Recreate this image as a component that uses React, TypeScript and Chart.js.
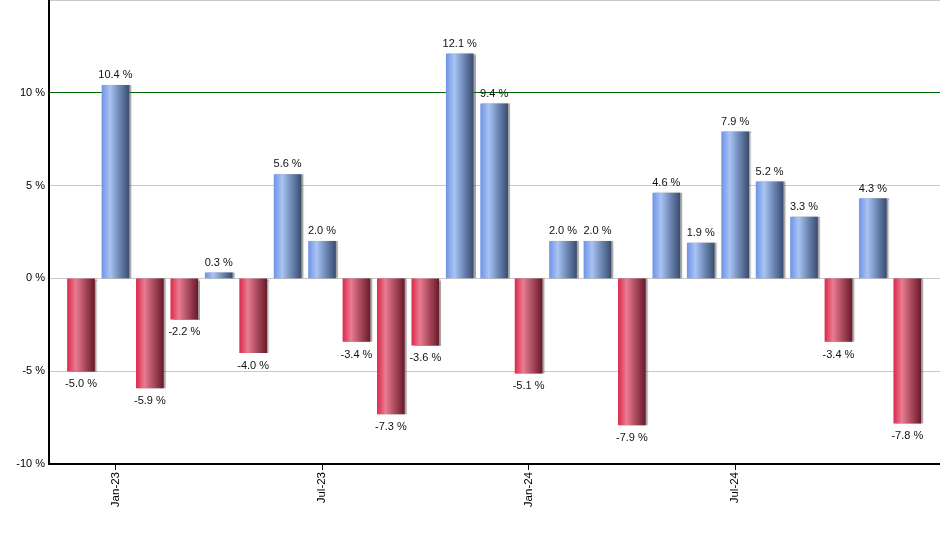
import React, { useEffect, useRef } from "react";
import { Chart, registerables } from "chart.js";

Chart.register(...registerables);

const months = [
  "Dec-22", "Jan-23", "Feb-23", "Mar-23", "Apr-23", "May-23", "Jun-23", "Jul-23",
  "Aug-23", "Sep-23", "Oct-23", "Nov-23", "Dec-23", "Jan-24", "Feb-24", "Mar-24",
  "Apr-24", "May-24", "Jun-24", "Jul-24", "Aug-24", "Sep-24", "Oct-24", "Nov-24", "Dec-24",
];
const returns = [
  -5.0, 10.4, -5.9, -2.2, 0.3, -4.0, 5.6, 2.0, -3.4, -7.3, -3.6, 12.1, 9.4,
  -5.1, 2.0, 2.0, -7.9, 4.6, 1.9, 7.9, 5.2, 3.3, -3.4, 4.3, -7.8,
];
const tickMonths = ["Jan-23", "Jul-23", "Jan-24", "Jul-24"];
const yTicks = [-10, -5, 0, 5, 10, 15];

const FONT = "'Liberation Sans', Arial, sans-serif";
const BAR_W = 27;

export default function App() {
  const ref = useRef<HTMLCanvasElement | null>(null);
  useEffect(() => {
    if (!ref.current) return;
    const tickIdx = tickMonths.map((m) => months.indexOf(m));

    const gradFor = (ctx: any) => {
      const chart = ctx.chart;
      const v = returns[ctx.dataIndex];
      const xs = chart.scales && chart.scales.x;
      const fallback = v >= 0 ? "#7a9de6" : "#d9304f";
      if (!xs || ctx.type !== "data" || !isFinite(xs.getPixelForValue(ctx.dataIndex))) return fallback;
      const px = xs.getPixelForValue(ctx.dataIndex);
      const g = chart.ctx.createLinearGradient(px - BAR_W / 2, 0, px + BAR_W / 2, 0);
      if (v >= 0) {
        g.addColorStop(0, "#6f95e6");
        g.addColorStop(0.3, "#a9c3f3");
        g.addColorStop(0.65, "#6d87b5");
        g.addColorStop(1, "#3b4e70");
      } else {
        g.addColorStop(0, "#dc2b4d");
        g.addColorStop(0.3, "#e97c91");
        g.addColorStop(0.65, "#a94a5d");
        g.addColorStop(1, "#6a1a2b");
      }
      return g;
    };

    const shadowPlugin = {
      id: "barShadow",
      beforeDatasetsDraw(chart: any) {
        const c = chart.ctx;
        c.save();
        c.shadowColor = "rgba(90,90,90,0.55)";
        c.shadowOffsetX = 2;
        c.shadowOffsetY = 0;
        c.shadowBlur = 1;
      },
      afterDatasetsDraw(chart: any) {
        chart.ctx.restore();
      },
    };

    const labelPlugin = {
      id: "valueLabels",
      afterDatasetsDraw(chart: any) {
        const c = chart.ctx;
        const meta = chart.getDatasetMeta(0);
        c.save();
        c.font = `11px ${FONT}`;
        c.fillStyle = "#111";
        c.textAlign = "center";
        meta.data.forEach((el: any, i: number) => {
          const v = returns[i];
          const txt = v.toFixed(1) + " %";
          if (v >= 0) {
            c.textBaseline = "alphabetic";
            c.fillText(txt, el.x, el.y - 7);
          } else {
            c.textBaseline = "alphabetic";
            c.fillText(txt, el.x, el.y + 16);
          }
        });
        c.restore();
      },
    };

    const zeroPad = (s: any) => {
      s.paddingTop = 0;
      s.paddingBottom = 0;
      s.paddingLeft = 0;
      s.paddingRight = 0;
    };

    const chart = new Chart(ref.current, {
      type: "bar",
      data: {
        datasets: [
          {
            data: returns.map((v, i) => ({ x: i, y: v })),
            backgroundColor: gradFor,
            borderWidth: 0,
            barThickness: BAR_W,
          } as any,
        ],
      },
      options: {
        animation: false,
        responsive: false,
        maintainAspectRatio: false,
        layout: { padding: 0 },
        plugins: { legend: { display: false }, tooltip: { enabled: false } },
        scales: {
          x: {
            type: "linear",
            offset: false,
            min: -0.93,
            max: 24.95,
            afterBuildTicks: (s: any) => {
              s.ticks = tickIdx.map((v) => ({ value: v }));
            },
            afterFit: (s: any) => {
              s.height = 86;
              zeroPad(s);
            },
            ticks: {
              autoSkip: false,
              minRotation: 90,
              maxRotation: 90,
              color: "#000",
              font: { family: FONT, size: 11.5 },
              padding: 2,
              callback: (v: any) => months[Math.round(Number(v))] ?? "",
            },
            grid: {
              offset: false,
              drawOnChartArea: false,
              drawTicks: true,
              tickLength: 6,
              color: "#000",
            },
            border: { color: "#000", width: 2 },
          },
          y: {
            min: -10,
            max: 15,
            afterBuildTicks: (s: any) => {
              s.ticks = yTicks.map((v) => ({ value: v }));
            },
            afterFit: (s: any) => {
              s.width = 49;
              zeroPad(s);
            },
            ticks: {
              color: "#000",
              font: { family: FONT, size: 11 },
              padding: 4,
              callback: (v: any) => (Number(v) === 15 ? "" : v + " %"),
            },
            grid: {
              drawTicks: false,
              color: (ctx: any) => (ctx.tick && ctx.tick.value === 10 ? "#006400" : "#c8c8c8"),
              lineWidth: 1,
            },
            border: { color: "#000", width: 2 },
          },
        },
      } as any,
      plugins: [shadowPlugin, labelPlugin],
    });
    return () => chart.destroy();
  }, []);

  return (
    <div style={{ position: "fixed", left: 0, top: 0, width: 940, height: 550, background: "#fff" }}>
      <canvas ref={ref} width={940} height={550} style={{ display: "block", width: 940, height: 550 }} />
    </div>
  );
}
